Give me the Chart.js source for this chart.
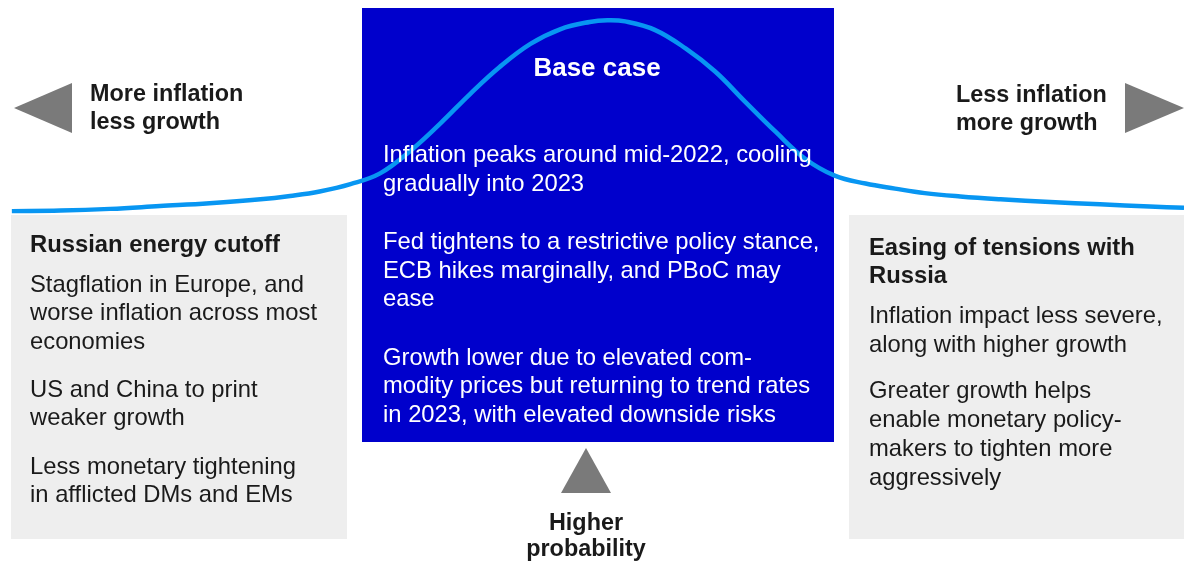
<!DOCTYPE html>
<html lang="en">
<head>
  <meta charset="UTF-8">
  <title>Scenario distribution</title>
  <script src="https://cdn.jsdelivr.net/npm/chart.js"></script>
  <style>
    html, body { margin: 0; padding: 0; background: #fff; }
    #wrap { position: relative; width: 1184px; height: 563px; }
  </style>
</head>
<body>
  <div id="wrap">
    <canvas id="scenarioChart"></canvas>
  </div>

  <script>
    // bell curve (x: % of width, y: relative probability)
    const outcome = [1.0, 5.1, 9.3, 13.5, 17.7, 22.0, 24.5, 27.0, 29.6, 32.1, 34.6, 37.2, 39.7, 42.2, 44.8, 47.3, 49.8, 51.3, 52.8, 55.3, 57.9, 60.4, 62.9, 65.5, 68.0, 70.5, 73.1, 75.6, 78.1, 81.1, 84.5, 88.7, 92.9, 97.1, 100];
    const probability = [62.5, 62.6, 62.9, 63.4, 63.9, 64.6, 65.2, 66.0, 67.3, 69.2, 73.1, 78.1, 83.3, 88.1, 92.2, 94.8, 96.1, 96.4, 96.2, 94.7, 91.4, 87.3, 82.0, 76.6, 71.8, 68.8, 67.4, 66.5, 65.7, 65.1, 64.6, 64.1, 63.7, 63.3, 63.1];

    // texts
    const leftLabel = ['More inflation', 'less growth'];
    const rightLabel = ['Less inflation', 'more growth'];
    const bottomLabel = ['Higher', 'probability'];
    const baseTitle = 'Base case';
    const baseText = [
      ['Inflation peaks around mid-2022, cooling', 'gradually into 2023'],
      ['Fed tightens to a restrictive policy stance,', 'ECB hikes marginally, and PBoC may', 'ease'],
      ['Growth lower due to elevated com-', 'modity prices but returning to trend rates', 'in 2023, with elevated downside risks']
    ];
    const leftTitle = ['Russian energy cutoff'];
    const leftText = [
      ['Stagflation in Europe, and', 'worse inflation across most', 'economies'],
      ['US and China to print', 'weaker growth'],
      ['Less monetary tightening', 'in afflicted DMs and EMs']
    ];
    const rightTitle = ['Easing of tensions with', 'Russia'];
    const rightText = [
      ['Inflation impact less severe,', 'along with higher growth'],
      ['Greater growth helps', 'enable monetary policy-', 'makers to tighten more', 'aggressively']
    ];

    const FONT = '"Liberation Sans", Arial, Helvetica, sans-serif';
    const DARK = '#1a1a1a';
    const GREY = '#7a7a7a';

    function tri(ctx, pts) {
      ctx.beginPath();
      ctx.moveTo(pts[0][0], pts[0][1]);
      ctx.lineTo(pts[1][0], pts[1][1]);
      ctx.lineTo(pts[2][0], pts[2][1]);
      ctx.closePath();
      ctx.fill();
    }

    function lines(ctx, arr, x, y, step) {
      arr.forEach((t, i) => ctx.fillText(t, x, y + i * step));
    }

    // boxes and arrows under the curve
    const backdrop = {
      id: 'backdrop',
      beforeDatasetsDraw(chart) {
        const ctx = chart.ctx;
        ctx.save();
        ctx.fillStyle = '#0000cc';
        ctx.fillRect(362, 8, 472, 434);
        ctx.fillStyle = '#eeeeee';
        ctx.fillRect(11, 215, 336, 324);
        ctx.fillRect(849, 215, 335, 324);
        ctx.fillStyle = GREY;
        tri(ctx, [[14, 108], [72, 83], [72, 133]]);
        tri(ctx, [[1184, 108], [1125, 83], [1125, 133]]);
        tri(ctx, [[586, 448], [561, 493], [611, 493]]);
        ctx.restore();
      }
    };

    // all texts on top of the curve
    const captions = {
      id: 'captions',
      afterDatasetsDraw(chart) {
        const ctx = chart.ctx;
        ctx.save();
        ctx.textBaseline = 'alphabetic';

        ctx.fillStyle = DARK;
        ctx.font = 'bold 23.4px ' + FONT;
        ctx.textAlign = 'left';
        lines(ctx, leftLabel, 90, 101, 27.5);
        lines(ctx, rightLabel, 956, 102, 28);
        ctx.textAlign = 'center';
        lines(ctx, bottomLabel, 586, 530, 26);

        ctx.fillStyle = '#ffffff';
        ctx.font = 'bold 26px ' + FONT;
        ctx.fillText(baseTitle, 597, 76);
        ctx.textAlign = 'left';
        ctx.font = '23.8px ' + FONT;
        let y = 162;
        baseText.forEach(p => {
          lines(ctx, p, 383, y, 28.7);
          y += p.length * 28.7 + 29.5;
        });

        ctx.fillStyle = DARK;
        ctx.font = 'bold 23.8px ' + FONT;
        lines(ctx, leftTitle, 30, 252, 28);
        lines(ctx, rightTitle, 869, 255, 28);
        ctx.font = '23.8px ' + FONT;
        y = 292;
        leftText.forEach(p => {
          lines(ctx, p, 30, y, 28.3);
          y += p.length * 28.3 + 20;
        });
        y = 323;
        rightText.forEach(p => {
          lines(ctx, p, 869, y, 29);
          y += p.length * 29 + 17;
        });
        ctx.restore();
      }
    };

    const ctxScenario = document.getElementById('scenarioChart').getContext('2d');
    const scenarioChart = new Chart(ctxScenario, {
      type: 'line',
      data: {
        datasets: [{
          label: 'Scenario probability',
          data: outcome.map((x, i) => ({ x: x, y: probability[i] })),
          borderColor: '#0896f2',
          borderWidth: 4.5,
          pointRadius: 0,
          tension: 0.4,
          fill: false
        }]
      },
      options: {
        responsive: true,
        maintainAspectRatio: false,
        animation: false,
        layout: { padding: 0 },
        plugins: { legend: { display: false }, tooltip: { enabled: false } },
        scales: {
          x: { type: 'linear', min: 0, max: 100, display: false },
          y: { min: 0, max: 100, display: false }
        }
      },
      plugins: [backdrop, captions]
    });
  </script>
</body>
</html>
